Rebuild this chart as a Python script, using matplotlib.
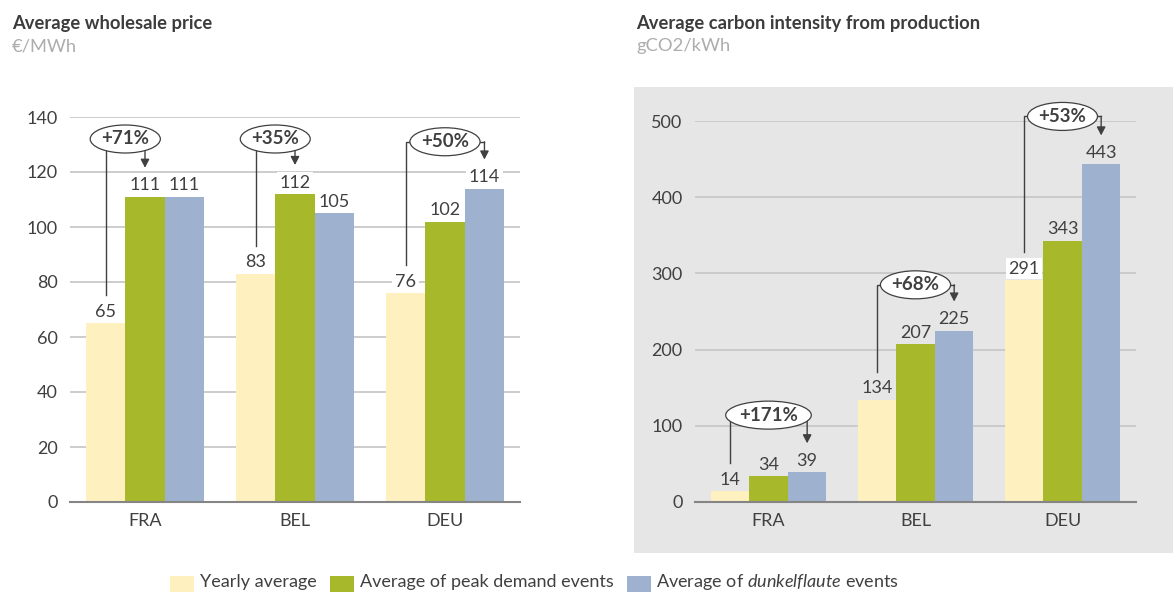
import matplotlib
matplotlib.use("Agg")
import matplotlib.pyplot as plt
from matplotlib.patches import Rectangle, Ellipse
from matplotlib.transforms import Affine2D
import numpy as np

plt.rcParams['font.family'] = ['Lato', 'DejaVu Sans']
plt.rcParams['mathtext.fontset'] = 'custom'
plt.rcParams['mathtext.rm'] = 'Lato'
plt.rcParams['mathtext.it'] = 'Lato:italic'

# ---- data ----
countries = ["FRA", "BEL", "DEU"]
series_names = ["Yearly average",
                "Average of peak demand events",
                "Average of $\\mathit{dunkelflaute}$ events"]

price_yearly = [65, 83, 76]
price_peak = [111, 112, 102]
price_dunkel = [111, 105, 114]
price_ticks = [0, 20, 40, 60, 80, 100, 120, 140]
price_changes = ["+71%", "+35%", "+50%"]
price_change_pairs = [(0, 1), (0, 1), (0, 2)]

carbon_yearly = [14, 134, 291]
carbon_peak = [34, 207, 343]
carbon_dunkel = [39, 225, 443]
carbon_ticks = [0, 100, 200, 300, 400, 500]
carbon_changes = ["+171%", "+68%", "+53%"]
carbon_change_pairs = [(0, 2), (0, 2), (0, 2)]

# ---- style ----
W, H, DPI = 1173, 592, 100
COLORS = ["#FFF0C0", "#A7B82A", "#9EB1CF"]
TEXT = "#404040"
GRID = "#C9C9C9"
PANEL_BG = "#E6E6E6"
FS = 13
BW = 0.263

fig = plt.figure(figsize=(W / DPI, H / DPI), dpi=DPI)
fig.patch.set_facecolor("white")
renderer = fig.canvas.get_renderer()

# grey backdrop of the carbon panel
fig.add_artist(Rectangle((634 / W, 1 - 553 / H), (W - 634) / W, (553 - 87) / H,
                         transform=fig.transFigure, facecolor=PANEL_BG,
                         edgecolor="none", zorder=0))


def px_axes(left, top, right, bottom):
    return fig.add_axes([left / W, 1 - bottom / H, (right - left) / W, (bottom - top) / H])


def panel(ax, series, ticks, changes, pairs, levels, height_px, label_bg, white_labels=()):
    ymax = ticks[-1]
    ppu = height_px / ymax
    x = np.arange(len(countries))
    offs = [-BW, 0, BW]
    ax.set_xlim(-0.5, len(countries) - 0.5)
    ax.set_ylim(0, ymax)
    for s, (vals, col) in enumerate(zip(series, COLORS)):
        ax.bar(x + offs[s], vals, width=BW, color=col, zorder=2)
        for i, v in enumerate(vals):
            fc = "white" if (s, i) in white_labels else label_bg
            ax.annotate(str(v), (x[i] + offs[s], v), xytext=(0, 2.5),
                        textcoords="offset points", ha="center", va="bottom",
                        fontsize=FS, color=TEXT, zorder=3,
                        bbox=dict(boxstyle="square,pad=0.15", fc=fc, ec="none"))
    ax.set_yticks(ticks)
    ax.set_xticks(x)
    ax.set_xticklabels(countries)
    ax.yaxis.grid(True, color=GRID, lw=1.3)
    ax.set_axisbelow(True)
    for side in ("top", "right", "left"):
        ax.spines[side].set_visible(False)
    ax.spines["bottom"].set_color("#858585")
    ax.spines["bottom"].set_linewidth(1.5)
    ax.spines["bottom"].set_zorder(2.5)
    ax.tick_params(length=0, labelsize=FS, labelcolor=TEXT)
    ax.tick_params(axis="y", pad=9)
    ax.tick_params(axis="x", pad=8)
    ax.set_facecolor("none")

    # change brackets: from one bar's label, through a bubble, to another bar
    for i, ((a, b), txt, ye) in enumerate(zip(pairs, changes, levels)):
        xa, xb = x[i] + offs[a], x[i] + offs[b]
        ya = series[a][i] + 28 / ppu
        yb = series[b][i] + 29 / ppu
        ax.plot([xa, xa, xb], [ya, ye, ye], color=TEXT, lw=1.0,
                clip_on=False, zorder=4, solid_joinstyle="miter")
        ax.annotate("", xy=(xb, yb), xytext=(xb, ye), zorder=4,
                    arrowprops=dict(arrowstyle="-|>,head_length=0.5,head_width=0.26",
                                    color=TEXT, lw=1.0, shrinkA=0, shrinkB=0),
                    annotation_clip=False)
        cx = (xa + xb) / 2
        t = ax.text(cx, ye, txt, ha="center", va="center",
                    fontsize=13.5, fontweight="bold", color=TEXT, zorder=6)
        tw = t.get_window_extent(renderer).width
        px, py = ax.transData.transform((cx, ye))
        ell = Ellipse((0, 0), tw * 1.42 + 2, 28,
                      transform=Affine2D().translate(px, py),
                      facecolor="white", edgecolor=TEXT, lw=0.9, zorder=5,
                      clip_on=False)
        ax.add_artist(ell)


ax1 = px_axes(70, 117, 520, 502)
panel(ax1, [price_yearly, price_peak, price_dunkel], price_ticks,
      price_changes, price_change_pairs, [132, 132, 131], 385, "white")

ax2 = px_axes(695, 121, 1136, 502)
panel(ax2, [carbon_yearly, carbon_peak, carbon_dunkel], carbon_ticks,
      carbon_changes, carbon_change_pairs, [114, 285, 506], 381, PANEL_BG,
      white_labels={(0, 2)})

# titles
for xpx, title, unit in [(12, "Average wholesale price", "€/MWh"),
                         (636, "Average carbon intensity from production", "gCO2/kWh")]:
    fig.text(xpx / W, 1 - 23 / H, title, fontsize=13.2, fontweight="bold",
             color="#3C3C3C", va="center", ha="left")
    fig.text(xpx / W, 1 - 46 / H, unit, fontsize=13.2, color="#ADADAD",
             va="center", ha="left")

# legend along the bottom edge
xpos = 170
for name, col in zip(series_names, COLORS):
    fig.add_artist(Rectangle((xpos / W, 1 - 598 / H), 24 / W, 22 / H,
                             transform=fig.transFigure, facecolor=col,
                             edgecolor="none"))
    t = fig.text((xpos + 30) / W, 1 - 582 / H, name, fontsize=FS, color=TEXT,
                 va="center", ha="left")
    bb = t.get_window_extent(renderer)
    xpos = bb.x1 + 13

fig.savefig("out.png", dpi=DPI)
